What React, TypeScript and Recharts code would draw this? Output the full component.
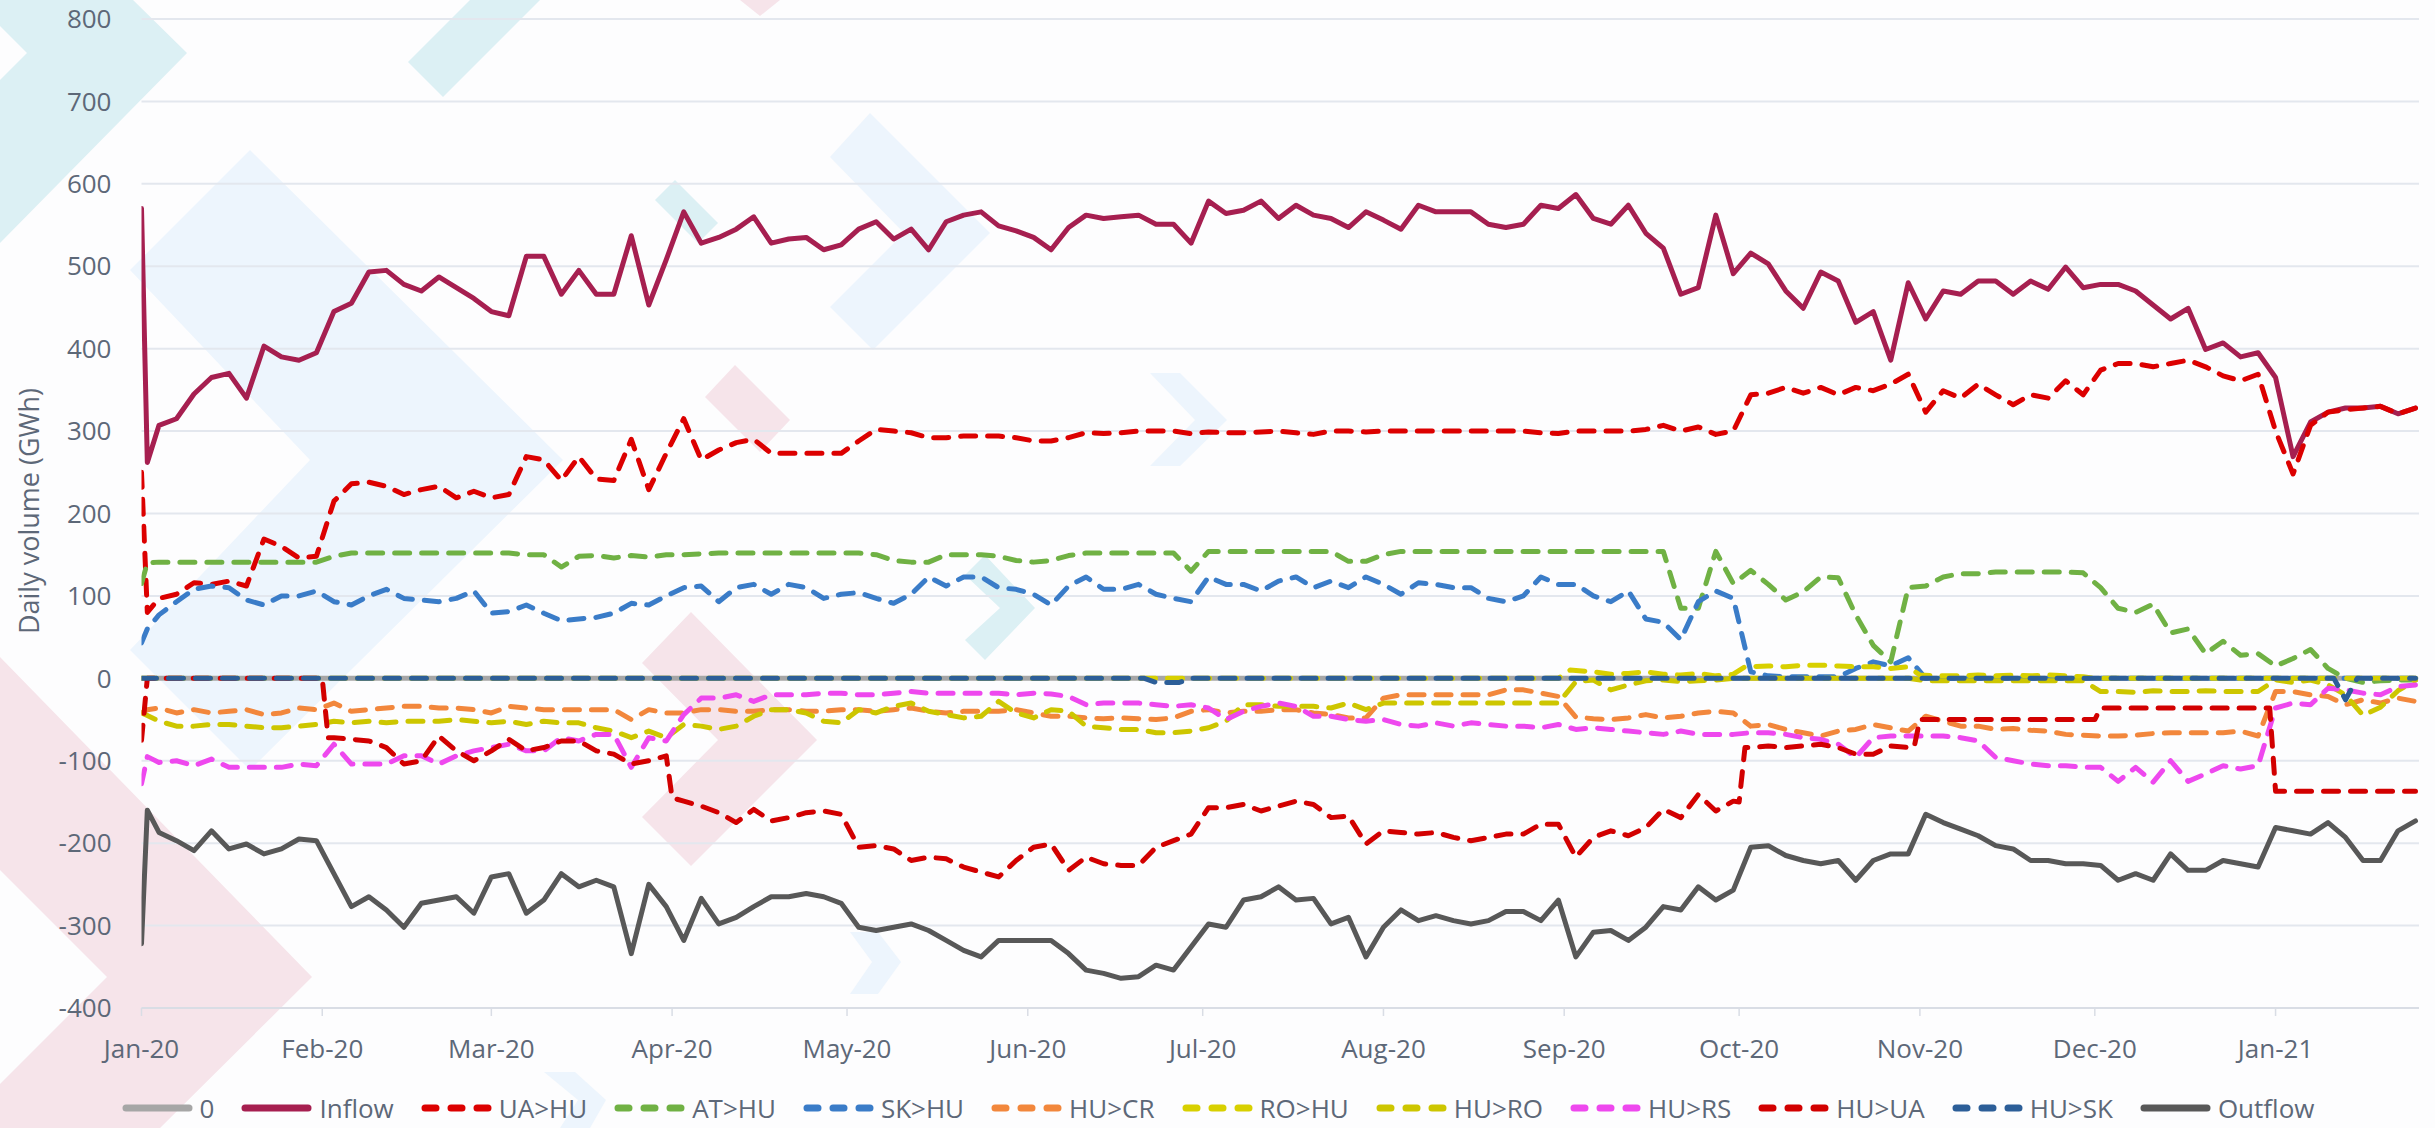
import { LineChart, Line, XAxis, YAxis, CartesianGrid } from "recharts";

const FONT = "'Open Sans', 'Noto Sans', sans-serif";
const TEXT = "#5d6878";

const monthStarts = [0, 31, 60, 91, 121, 152, 182, 213, 244, 274, 305, 335, 366];
const monthLabels = [
  "Jan-20", "Feb-20", "Mar-20", "Apr-20", "May-20", "Jun-20", "Jul-20",
  "Aug-20", "Sep-20", "Oct-20", "Nov-20", "Dec-20", "Jan-21",
];
const yTicks = [-400, -300, -200, -100, 0, 100, 200, 300, 400, 500, 600, 700, 800];

// day index from 1 Jan 2020: day 0, day 1, then every third day up to 25 Jan 2021
const days = [0, 1, ...Array.from({ length: 130 }, (_, i) => 3 * (i + 1))];

const inflow = [
  570, 262,
  307, 315, 345, 365, 370, 340, 403, 390, 386, 395,
  445, 455, 493, 495, 478, 470, 487, 474, 461, 445,
  440, 512, 512, 466, 495, 466, 466, 537, 453, 508,
  566, 528, 535, 545, 560, 528, 533, 535, 520, 526,
  545, 554, 533, 545, 520, 554, 562, 566, 549, 543,
  535, 520, 547, 562, 558, 560, 562, 551, 551, 528,
  579, 564, 568, 579, 558, 574, 562, 558, 547, 566,
  556, 545, 574, 566, 566, 566, 551, 547, 551, 574,
  570, 587, 558, 551, 574, 540, 522, 466, 474, 562,
  491, 516, 503, 470, 449, 493, 482, 432, 445, 386,
  480, 436, 470, 466, 482, 482, 466, 482, 472, 499,
  474, 478, 478, 470, 453, 436, 449, 399, 407, 390,
  395, 365, 269, 311, 323, 328, 328, 330, 321, 328,
];

const uaHu = [
  250, 80,
  97, 102, 116, 114, 118, 112, 169, 160, 146, 148,
  215, 236, 238, 233, 223, 229, 233, 219, 227, 219,
  223, 269, 265, 240, 269, 242, 240, 290, 229, 273,
  315, 265, 277, 286, 290, 273, 273, 273, 273, 273,
  288, 302, 300, 298, 292, 292, 294, 294, 294, 292,
  288, 288, 292, 298, 297, 298, 300, 300, 300, 297,
  299, 298, 298, 299, 300, 298, 296, 300, 300, 299,
  300, 300, 300, 300, 300, 300, 300, 300, 300, 298,
  297, 300, 300, 300, 300, 302, 307, 300, 305, 296,
  300, 344, 346, 353, 346, 353, 344, 353, 349, 357,
  369, 323, 349, 340, 357, 344, 332, 344, 340, 361,
  344, 374, 382, 382, 378, 382, 386, 378, 367, 361,
  369, 300, 248, 307, 323, 326, 328, 330, 321, 328,
];

const atHu = [
  115, 140,
  141, 141, 141, 141, 141, 141, 141, 141, 141, 141,
  148, 152, 152, 152, 152, 152, 152, 152, 152, 152,
  152, 150, 150, 135, 148, 149, 146, 149, 147, 150,
  150, 151, 152, 152, 152, 152, 152, 152, 152, 152,
  152, 150, 143, 141, 141, 150, 150, 150, 148, 143,
  141, 143, 149, 152, 152, 152, 152, 152, 152, 130,
  154, 154, 154, 154, 154, 154, 154, 154, 142, 142,
  150, 154, 154, 154, 154, 154, 154, 154, 154, 154,
  154, 154, 154, 154, 154, 154, 154, 85, 85, 154,
  115, 131, 114, 95, 105, 123, 122, 77, 40, 20,
  110, 112, 123, 127, 127, 129, 129, 129, 129, 129,
  128, 110, 85, 80, 90, 55, 60, 30, 45, 28,
  30, 15, 24, 35, 12, 0, -5, -3, -2, -2,
];

const skHu = [
  43, 60,
  77, 93, 108, 112, 110, 95, 89, 100, 100, 106,
  93, 89, 100, 108, 97, 95, 93, 97, 106, 79,
  81, 89, 79, 70, 72, 74, 79, 91, 89, 100,
  110, 112, 93, 110, 114, 102, 114, 110, 97, 102,
  104, 97, 91, 102, 123, 112, 123, 123, 110, 108,
  102, 89, 112, 123, 108, 108, 114, 102, 97, 93,
  123, 114, 114, 106, 118, 123, 110, 118, 110, 123,
  114, 102, 116, 114, 110, 110, 97, 93, 100, 123,
  114, 114, 100, 93, 106, 72, 68, 47, 93, 106,
  97, 8, 3, 2, 2, 2, 2, 12, 20, 15,
  25, 0, 0, 0, 0, 0, 0, 0, 0, 0,
  0, 0, 0, 0, 0, 0, 0, 0, 0, 0,
  0, 0, 0, 0, 0, 0, 0, 0, 0, 0,
];

const huCr = [
  -42, -38,
  -36, -42, -38, -42, -40, -38, -44, -42, -36, -38,
  -30, -40, -38, -36, -34, -34, -36, -36, -38, -42,
  -34, -36, -38, -38, -38, -38, -38, -50, -38, -42,
  -42, -38, -38, -40, -40, -38, -38, -40, -40, -38,
  -38, -40, -38, -36, -40, -42, -40, -40, -40, -38,
  -42, -46, -46, -48, -49, -48, -49, -50, -48, -40,
  -38, -42, -40, -40, -38, -38, -42, -44, -48, -48,
  -24, -20, -20, -20, -20, -20, -20, -14, -14, -18,
  -22, -47, -49, -50, -48, -44, -48, -46, -42, -40,
  -42, -58, -56, -62, -66, -70, -64, -62, -56, -60,
  -64, -46, -52, -58, -58, -62, -61, -63, -64, -68,
  -69, -70, -70, -69, -67, -66, -66, -66, -66, -64,
  -70, -16, -16, -20, -22, -32, -26, -30, -24, -28,
];

const huRo = [
  -42, -45,
  -52, -58, -58, -56, -56, -58, -60, -60, -58, -56,
  -52, -54, -52, -54, -52, -52, -52, -50, -52, -54,
  -52, -56, -52, -54, -54, -60, -64, -72, -64, -72,
  -56, -58, -62, -58, -46, -38, -38, -42, -52, -54,
  -38, -42, -34, -30, -40, -44, -48, -46, -28, -42,
  -48, -38, -40, -58, -60, -62, -62, -66, -66, -64,
  -60, -52, -32, -32, -34, -34, -34, -36, -30, -38,
  -30, -30, -30, -30, -30, -30, -30, -30, -30, -30,
  -30, -4, -2, -14, -8, -3, -2, -4, -3, -2,
  0, 0, 0, 0, 0, 0, 0, 0, 0, 0,
  0, -3, -3, -3, -3, -3, -3, -3, -3, -3,
  -3, -16, -16, -17, -15, -16, -16, -15, -16, -16,
  -16, -2, -5, -2, -8, -20, -45, -35, -15, -2,
];

const huRs = [
  -128, -95,
  -102, -100, -106, -98, -108, -108, -108, -108, -104, -106,
  -80, -104, -104, -104, -94, -94, -104, -94, -88, -84,
  -80, -88, -88, -72, -76, -68, -68, -108, -72, -76,
  -44, -24, -24, -20, -28, -20, -20, -20, -18, -18,
  -20, -20, -18, -16, -18, -18, -18, -18, -18, -20,
  -18, -19, -22, -32, -30, -30, -30, -32, -34, -32,
  -36, -50, -40, -34, -30, -34, -46, -46, -50, -52,
  -50, -56, -58, -54, -58, -54, -56, -58, -58, -60,
  -56, -62, -60, -62, -64, -66, -68, -64, -68, -68,
  -68, -66, -66, -68, -72, -74, -80, -96, -72, -70,
  -70, -70, -70, -72, -76, -96, -100, -104, -106, -106,
  -108, -108, -125, -108, -126, -100, -125, -116, -106, -110,
  -106, -36, -30, -32, -12, -14, -18, -20, -10, -8,
];

const outflow = [
  -322, -160,
  -187, -197, -209, -185, -207, -201, -213, -207, -195, -197,
  -237, -277, -265, -281, -302, -273, -269, -265, -285, -241,
  -237, -285, -269, -237, -253, -245, -253, -334, -250, -277,
  -318, -267, -298, -290, -277, -265, -265, -261, -265, -273,
  -302, -306, -302, -298, -306, -318, -330, -338, -318, -318,
  -318, -318, -334, -354, -358, -364, -362, -348, -354, -326,
  -298, -302, -269, -265, -253, -269, -267, -298, -290, -338,
  -302, -281, -294, -288, -294, -298, -294, -283, -283, -294,
  -269, -338, -308, -306, -318, -302, -277, -281, -253, -269,
  -257, -205, -203, -215, -221, -225, -221, -245, -221, -213,
  -213, -165, -175, -183, -191, -203, -207, -221, -221, -225,
  -225, -227, -245, -237, -245, -213, -233, -233, -221, -225,
  -229, -181, -185, -189, -175, -193, -221, -221, -185, -173,
];

// series with sharp steps keep their own day lists
const huUaDays = [
  0, 1, 31, 32, 33, 36, 39, 42, 45, 48, 51, 54, 57, 60, 63, 66, 69, 72, 75, 78, 81, 84, 87, 90,
  91, 93, 96, 99, 102, 105, 108, 111, 114, 117, 120, 123, 126, 129, 132, 135, 138, 141, 144,
  147, 150, 153, 156, 159, 162, 165, 168, 171, 174, 177, 180, 183, 186, 189, 192, 195, 198,
  201, 204, 207, 210, 213, 216, 219, 222, 225, 228, 231, 234, 237, 240, 243, 246, 249, 252,
  255, 258, 261, 264, 267, 270, 273, 274, 275, 276, 279, 282, 285, 288, 291, 294, 297, 300,
  303, 304, 305, 335, 336, 365, 366, 390,
];
const huUa = [
  -75, 0, 0, -72, -72, -74, -76, -84, -104, -100, -70, -88, -100, -88, -74, -88, -84, -76, -76, -88, -92, -104, -100, -94,
  -145, -149, -155, -163, -175, -159, -173, -169, -163, -161, -165, -205, -203, -207, -221, -217, -219, -229, -235,
  -241, -221, -205, -201, -233, -217, -225, -227, -227, -205, -197, -189, -157, -157, -153, -161, -155, -149,
  -153, -169, -167, -201, -185, -187, -189, -187, -193, -197, -193, -189, -189, -177, -177, -217, -193, -185,
  -191, -181, -159, -169, -141, -161, -149, -150, -84, -84, -82, -84, -82, -80, -84, -92, -92, -82,
  -84, -84, -50, -50, -36, -36, -137, -137,
];

const roHuDays = [
  0, 243, 245, 249, 252, 255, 258, 261, 264, 267, 270, 273, 275, 279, 282, 285, 288, 291,
  294, 297, 300, 303, 305, 309, 312, 315, 318, 321, 324, 327, 330, 333, 335, 390,
];
const roHu = [
  0, 0, 10, 8, 5, 6, 8, 5, 4, 6, 3, 5, 14, 15, 14, 16, 16, 15,
  14, 14, 12, 14, 4, 3, 3, 4, 3, 4, 3, 4, 3, 2, 0, 0,
];

const huSkDays = [0, 172, 174, 178, 180, 376, 378, 380, 390];
const huSk = [0, 0, -5, -5, 0, 0, -26, 0, 0];

const zeroDays = [0, 390];
const zero = [0, 0];

const toPoints = (xs: number[], ys: number[]) => xs.map((day, i) => ({ day, value: ys[i] }));

const series = [
  { name: "0", color: "#a6a6a6", dashed: false, points: toPoints(zeroDays, zero) },
  { name: "Inflow", color: "#a61f50", dashed: false, points: toPoints(days, inflow) },
  { name: "UA>HU", color: "#dc0000", dashed: true, points: toPoints(days, uaHu) },
  { name: "AT>HU", color: "#70b144", dashed: true, points: toPoints(days, atHu) },
  { name: "SK>HU", color: "#3a7cc8", dashed: true, points: toPoints(days, skHu) },
  { name: "HU>CR", color: "#f2873c", dashed: true, points: toPoints(days, huCr) },
  { name: "RO>HU", color: "#d8d000", dashed: true, points: toPoints(roHuDays, roHu) },
  { name: "HU>RO", color: "#cdc600", dashed: true, points: toPoints(days, huRo) },
  { name: "HU>RS", color: "#ee48ee", dashed: true, points: toPoints(days, huRs) },
  { name: "HU>UA", color: "#d20000", dashed: true, points: toPoints(huUaDays, huUa) },
  { name: "HU>SK", color: "#2c5e98", dashed: true, points: toPoints(huSkDays, huSk) },
  { name: "Outflow", color: "#585858", dashed: false, points: toPoints(days, outflow) },
];

// faint chevrons of the slide background
const backdrop = [
  { fill: "#dcf0f4", points: "0,0 133,0 187,53 0,243 0,80 27,53 0,26" },
  { fill: "#dcf0f4", points: "408,62 470,0 540,0 443,97" },
  { fill: "#f6e4ea", points: "740,0 780,0 760,16" },
  { fill: "#edf5fd", points: "250,150 563,460 250,770 130,650 310,460 130,270" },
  { fill: "#f6e4ea", points: "0,657 312,977 160,1128 0,1128 0,1084 107,977 0,870" },
  { fill: "#f6e4ea", points: "691,612 817,740 691,866 642,817 718,740 642,663" },
  { fill: "#f6e4ea", points: "735,365 790,420 760,452 705,397" },
  { fill: "#edf5fd", points: "870,113 990,233 873,350 830,307 904,233 830,157" },
  { fill: "#dcf0f4", points: "655,200 675,180 718,223 698,243" },
  { fill: "#dcf0f4", points: "985,555 1035,608 985,660 965,640 1000,608 965,575" },
  { fill: "#edf5fd", points: "1150,373 1180,373 1227,420 1180,466 1150,466 1195,420" },
  { fill: "#edf5fd", points: "850,932 878,932 901,962 878,994 850,994 872,962" },
  { fill: "#edf5fd", points: "544,1072 575,1072 606,1100 590,1128 560,1128 578,1100" },
];

const tickStyle = { fill: TEXT, fontSize: 26, fontFamily: FONT };

export default function App() {
  return (
    <div style={{ position: "absolute", left: 0, top: 0, width: 2435, height: 1128, background: "#fdfdfe", overflow: "hidden" }}>
      <svg width={2435} height={1128} style={{ position: "absolute", left: 0, top: 0 }}>
        {backdrop.map((b, i) => (
          <polygon key={i} points={b.points} fill={b.fill} />
        ))}
      </svg>
      <div style={{ position: "absolute", left: 0, top: 0 }}>
        <LineChart width={2435} height={1128} margin={{ top: 19, right: 16, bottom: 60, left: 0 }}>
          <CartesianGrid vertical={false} stroke="#e3e7ee" strokeWidth={2} />
          <XAxis
            type="number"
            dataKey="day"
            domain={[0, 390.6]}
            allowDataOverflow
            ticks={monthStarts}
            tickFormatter={(d: number) => monthLabels[monthStarts.indexOf(d)]}
            height={60}
            tick={tickStyle}
            tickSize={8}
            tickMargin={24}
            axisLine={{ stroke: "#d9dde5", strokeWidth: 2 }}
            tickLine={{ stroke: "#d9dde5", strokeWidth: 1.5 }}
          />
          <YAxis
            type="number"
            domain={[-400, 800]}
            ticks={yTicks}
            width={141.5}
            axisLine={false}
            tickLine={false}
            tickSize={6}
            tickMargin={24}
            tick={tickStyle}
          />
          {series.map((s) => (
            <Line
              key={s.name}
              name={s.name}
              data={s.points}
              dataKey="value"
              type="linear"
              stroke={s.color}
              strokeWidth={5}
              strokeDasharray={s.dashed ? "15 12" : undefined}
              strokeLinecap="round"
              strokeLinejoin="round"
              dot={false}
              activeDot={false}
              isAnimationActive={false}
            />
          ))}
        </LineChart>
      </div>
      <svg width={80} height={1128} style={{ position: "absolute", left: 0, top: 0 }}>
        <text
          x={28}
          y={511}
          transform="rotate(-90 28 511)"
          textAnchor="middle"
          dominantBaseline="central"
          fill={TEXT}
          fontSize={27}
          fontFamily={FONT}
        >
          Daily volume (GWh)
        </text>
      </svg>
      <div
        style={{
          position: "absolute",
          left: 0,
          top: 1090,
          width: 2435,
          display: "flex",
          justifyContent: "center",
          alignItems: "center",
          gap: 26,
          fontFamily: FONT,
          fontSize: 26,
          color: TEXT,
        }}
      >
        {series.map((s) => (
          <div key={s.name} style={{ display: "flex", alignItems: "center", gap: 6 }}>
            <svg width={73} height={14}>
              <line
                x1={5}
                x2={68}
                y1={7}
                y2={7}
                stroke={s.color}
                strokeWidth={7}
                strokeLinecap="round"
                strokeDasharray={s.dashed ? "11 15" : undefined}
              />
            </svg>
            <span>{s.name}</span>
          </div>
        ))}
      </div>
    </div>
  );
}
